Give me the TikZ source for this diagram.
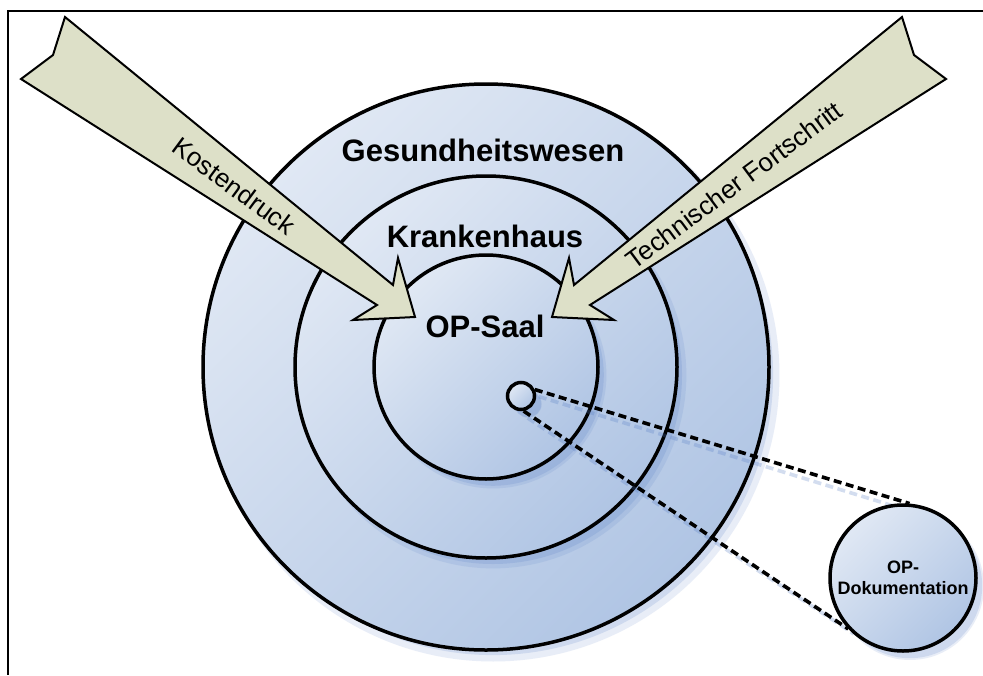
\documentclass[tikz,border=0pt]{standalone}
\usepackage{fontspec}
\setmainfont{Liberation Sans}
\usetikzlibrary{shadows}
\definecolor{ringlight}{RGB}{224,232,244}
\definecolor{ringdark}{RGB}{176,197,228}
\definecolor{ringshadow}{RGB}{80,120,195}
\definecolor{bandfill}{RGB}{221,224,200}
\begin{document}
\begin{tikzpicture}[x=1pt,y=-1pt,
  ring/.style={circle, draw=black, line width=3.5pt, inner sep=0pt,
    top color=ringlight, bottom color=ringdark, shading angle=45,
    drop shadow={shadow xshift=7pt, shadow yshift=-8pt, shadow scale=1.012, fill=ringshadow, opacity=0.13},
    drop shadow={shadow xshift=7pt, shadow yshift=-8pt, shadow scale=0.99, fill=ringshadow, opacity=0.17}},
  ringlabel/.style={font=\bfseries\fontsize{31}{36}\selectfont, inner sep=0pt},
  doclabel/.style={font=\bfseries\fontsize{18}{21.5}\selectfont, align=center},
  band/.style={fill=bandfill, draw=black, line width=2pt, line join=miter},
  bandlabel/.style={font=\fontsize{26}{30}\selectfont, inner sep=0pt},
  link/.style={draw=black, line width=3.6pt, dash pattern=on 8pt off 4.5pt},
  linkshadow/.style={draw=ringshadow, opacity=0.25, line width=3.6pt, dash pattern=on 8pt off 4.5pt}]
\fill[white] (0,0) rectangle (983,675);
\useasboundingbox (0,0) rectangle (983,675);
% frame
\draw[line width=2.4pt] (983,11) -- (8,11) -- (8,675);

% nested rings
\node[ring, minimum size=566pt] (health) at (486,367) {};
\node[ring, minimum size=382pt] (hospital) at (486,367) {};
\node[ring, minimum size=224pt] (theatre) at (486,367) {};
\node[ring, minimum size=27pt] (spot) at (521,396) {};

% detail connectors
\coordinate (upshadowend) at (913,512);
\coordinate (lowshadowend) at (854,634);
\draw[linkshadow] ([shift={(4,7)}]spot.25) -- (upshadowend);
\draw[linkshadow] ([shift={(4,7)}]spot.-80) -- (lowshadowend);
\node[ring, minimum size=146pt, doclabel] (doc) at (903,578) {OP-\\Dokumentation};
\draw[link] (spot.25) -- (doc.85);
\draw[link] (spot.-80) -- (doc.-137);

% labels of the rings
\node[ringlabel, anchor=base] (lblhealth) at (483,161) {Gesundheitswesen};
\node[ringlabel, anchor=base] (lblhospital) at (485,247) {Krankenhaus};
\node[ringlabel, anchor=base] (lbltheatre) at (485,337) {OP-Saal};

% incoming influence arrows
\filldraw[band] (65,17) -- (53,55) -- (21,79) -- (377,305) -- (353,320)
  -- (415,317) -- (398,258) -- (393,285) -- cycle;
\filldraw[band] (902,17) -- (914,55) -- (946,79) -- (590,305) -- (614,320)
  -- (552,317) -- (569,258) -- (574,285) -- cycle;
\node[bandlabel, rotate=-36.5] (costs) at (234,186) {Kostendruck};
\node[bandlabel, rotate=36.5] (progress) at (734,185) {Technischer Fortschritt};
\end{tikzpicture}
\end{document}
